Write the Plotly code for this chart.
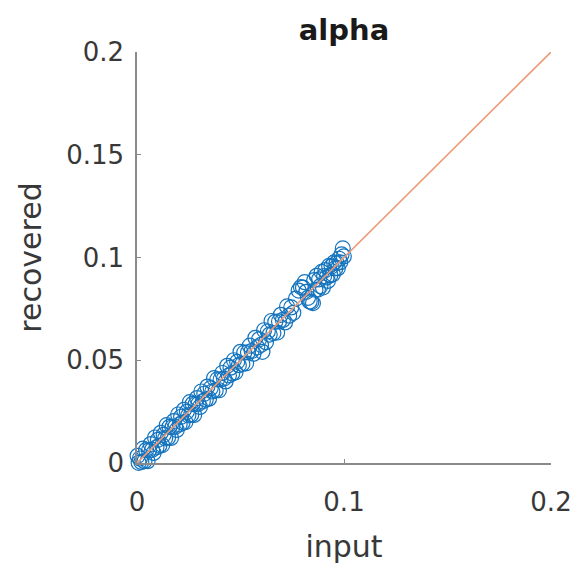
import plotly.graph_objects as go

# Input vs recovered alpha parameter values
input_vals = [0.0003, 0.0008, 0.0014, 0.0021, 0.0029, 0.0036, 0.0044, 0.0051, 0.0058, 0.0066,
              0.0073, 0.0080, 0.0087, 0.0094, 0.0101, 0.0108, 0.0115, 0.0122, 0.0129, 0.0136,
              0.0143, 0.0150, 0.0157, 0.0164, 0.0171, 0.0178, 0.0185, 0.0192, 0.0199, 0.0206,
              0.0213, 0.0220, 0.0227, 0.0234, 0.0241, 0.0248, 0.0255, 0.0262, 0.0269, 0.0276,
              0.0283, 0.0290, 0.0297, 0.0304, 0.0311, 0.0318, 0.0325, 0.0332, 0.0340, 0.0348,
              0.0356, 0.0364, 0.0372, 0.0380, 0.0388, 0.0396, 0.0404, 0.0412, 0.0420, 0.0428,
              0.0436, 0.0444, 0.0452, 0.0460, 0.0468, 0.0476, 0.0484, 0.0492, 0.0500, 0.0509,
              0.0518, 0.0527, 0.0536, 0.0545, 0.0554, 0.0563, 0.0572, 0.0581, 0.0590, 0.0599,
              0.0606, 0.0614, 0.0623, 0.0632, 0.0641, 0.0650, 0.0659, 0.0668, 0.0677, 0.0686,
              0.0695, 0.0705, 0.0715, 0.0725, 0.0735, 0.0745, 0.0755, 0.0768, 0.0781, 0.0792,
              0.0802, 0.0810, 0.0818, 0.0826, 0.0834, 0.0842, 0.0850, 0.0856, 0.0862, 0.0868,
              0.0874, 0.0880, 0.0886, 0.0892, 0.0898, 0.0904, 0.0910, 0.0916, 0.0922, 0.0928,
              0.0934, 0.0940, 0.0946, 0.0952, 0.0958, 0.0964, 0.0970, 0.0976, 0.0982, 0.0988,
              0.0994, 0.0999]
recovered_vals = [0.0035, 0.0001, 0.0022, 0.0005, 0.0070, 0.0009, 0.0063, 0.0009, 0.0061, 0.0092,
                  0.0064, 0.0049, 0.0124, 0.0076, 0.0113, 0.0084, 0.0147, 0.0087, 0.0137, 0.0120,
                  0.0184, 0.0123, 0.0176, 0.0122, 0.0174, 0.0204, 0.0176, 0.0161, 0.0236, 0.0188,
                  0.0225, 0.0196, 0.0259, 0.0199, 0.0249, 0.0232, 0.0296, 0.0235, 0.0288, 0.0234,
                  0.0286, 0.0316, 0.0288, 0.0273, 0.0348, 0.0300, 0.0337, 0.0308, 0.0372, 0.0313,
                  0.0364, 0.0348, 0.0413, 0.0353, 0.0407, 0.0354, 0.0407, 0.0438, 0.0411, 0.0397,
                  0.0473, 0.0426, 0.0464, 0.0436, 0.0500, 0.0441, 0.0492, 0.0476, 0.0541, 0.0482,
                  0.0537, 0.0485, 0.0539, 0.0571, 0.0545, 0.0532, 0.0609, 0.0563, 0.0602, 0.0575,
                  0.0541, 0.0646, 0.0588, 0.0640, 0.0625, 0.0691, 0.0632, 0.0687, 0.0635, 0.0689,
                  0.0721, 0.0696, 0.0684, 0.0762, 0.0717, 0.0757, 0.0731, 0.0800, 0.0839, 0.0856,
                  0.0853, 0.0880, 0.0833, 0.0804, 0.0786, 0.0783, 0.0778, 0.0890, 0.0843, 0.0911,
                  0.0844, 0.0894, 0.0861, 0.0930, 0.0854, 0.0910, 0.0939, 0.0903, 0.0886, 0.0959,
                  0.0914, 0.0957, 0.0918, 0.0976, 0.0947, 0.0973, 0.0948, 0.0994, 0.0977, 0.1015,
                  0.1044, 0.1005]

# Identity reference line
identity_x = [0, 0.2]
identity_y = [0, 0.2]

x_ticks = [0, 0.1, 0.2]
x_ticktext = ["0", "0.1", "0.2"]
y_ticks = [0, 0.05, 0.1, 0.15, 0.2]
y_ticktext = ["0", "0.05", "0.1", "0.15", "0.2"]

FONT = "DejaVu Sans, Verdana, sans-serif"

fig = go.Figure()
fig.add_trace(go.Scatter(
    x=input_vals, y=recovered_vals, mode="markers",
    marker=dict(symbol="circle-open", size=15, color="#1474BE",
                line=dict(width=1.2, color="#1474BE")),
    cliponaxis=False, showlegend=False,
))
fig.add_trace(go.Scatter(
    x=identity_x, y=identity_y, mode="lines",
    line=dict(color="#EC9A78", width=1.6),
    cliponaxis=False, showlegend=False,
))

axis_common = dict(
    showline=True, linecolor="#8a8a8a", linewidth=1.5,
    showgrid=False, zeroline=False,
    ticks="inside", ticklen=4, tickcolor="#8a8a8a", tickwidth=1,
    tickfont=dict(family=FONT, size=26, color="#383838"),
    title_font=dict(family=FONT, size=30, color="#383838"),
    mirror=False,
)

fig.update_layout(
    width=584, height=570,
    margin=dict(l=137, r=31, t=52, b=103),
    paper_bgcolor="white", plot_bgcolor="white",
    title=dict(text="<b>alpha</b>", x=0.5, xanchor="center", xref="paper",
               y=1 - 30 / 570, yref="container", yanchor="middle",
               font=dict(family=FONT, size=29, color="#1a1a1a")),
    xaxis=dict(range=[0, 0.2], tickvals=x_ticks, ticktext=x_ticktext,
               ticklabelstandoff=15,
               title=dict(text="input", standoff=20), **axis_common),
    yaxis=dict(range=[0, 0.2], tickvals=y_ticks, ticktext=y_ticktext,
               ticklabelstandoff=6,
               title=dict(text="recovered", standoff=16), **axis_common),
)

fig.write_html("out.html")
